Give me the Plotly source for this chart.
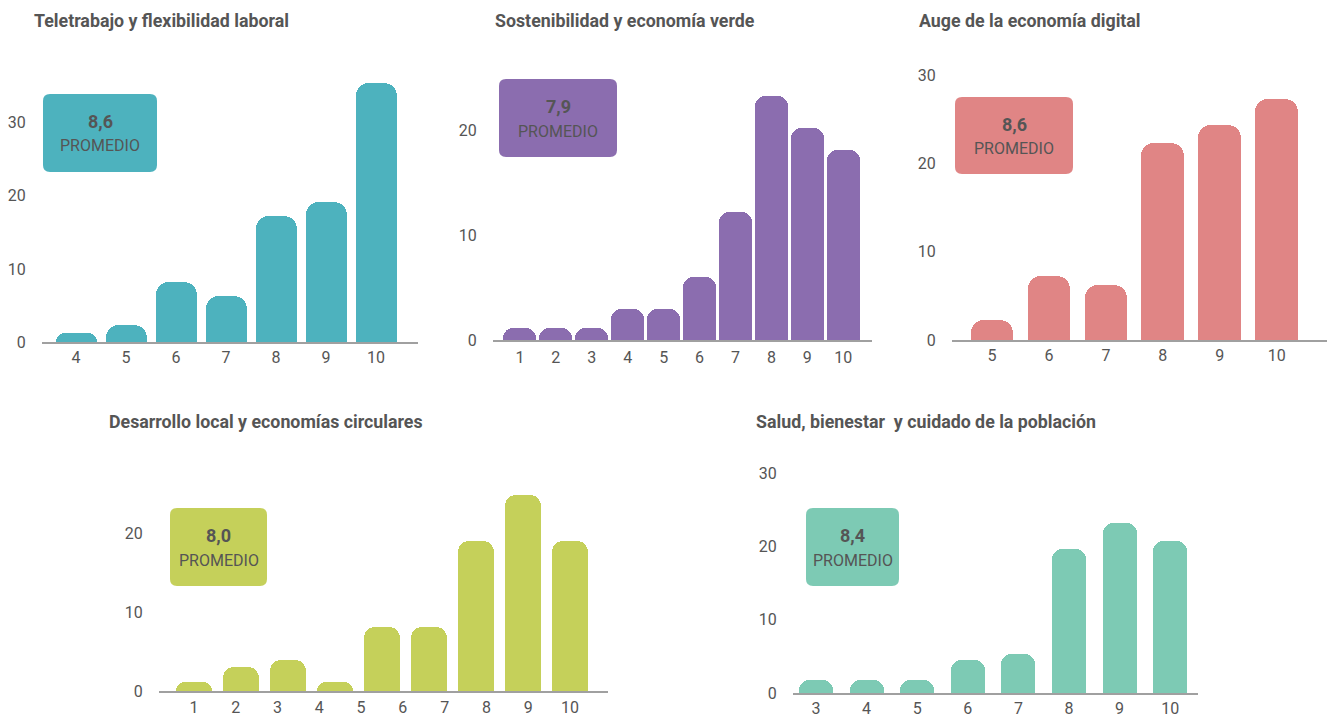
import numpy as np
import plotly.graph_objects as go

W, H = 1327, 720

# ---------------- data ----------------
titles = [
    "Teletrabajo y flexibilidad laboral",
    "Sostenibilidad y economía verde",
    "Auge de la economía digital",
    "Desarrollo local y economías circulares",
    "Salud, bienestar  y cuidado de la población",
]
averages = ["8,6", "7,9", "8,6", "8,0", "8,4"]
badge_label = "PROMEDIO"

cats1 = [4, 5, 6, 7, 8, 9, 10]
vals1 = [1.3, 2.3, 8.2, 6.3, 17.2, 19.1, 35.5]

cats2 = [1, 2, 3, 4, 5, 6, 7, 8, 9, 10]
vals2 = [1.1, 1.1, 1.1, 3.0, 3.0, 6.0, 12.2, 23.2, 20.2, 18.1]

cats3 = [5, 6, 7, 8, 9, 10]
vals3 = [2.3, 7.2, 6.2, 22.3, 24.3, 27.3]

labels4 = ["1", "2", "3", "4", "5", "6", "7", "8", "9", "10"]
vals4 = [1.2, 3.0, 4.0, 1.2, 8.1, 8.1, 19.1, 24.9, 19.1]

cats5 = [3, 4, 5, 6, 7, 8, 9, 10]
vals5 = [1.8, 1.8, 1.8, 4.5, 5.3, 19.7, 23.2, 20.7]

colors = ["#4db2be", "#8b6daf", "#e08585", "#c5d05a", "#7dcab4"]

# ---------------- layout geometry (pixels) ----------------
panels = [
    dict(xpx=(42, 418), base=342, top=60, ppu=7.31, xr=[3.32, 10.84], bw=0.82, tl=0,
         title=(32, 20), badge=(43, 94, 157, 172)),
    dict(xpx=(493, 872), base=340, top=60, ppu=10.5, xr=[0.25, 10.8], bw=0.92, tl=2,
         title=(493, 20), badge=(499, 79, 617, 157)),
    dict(xpx=(952, 1327), base=340, top=60, ppu=8.83, xr=[4.30, 10.88], bw=0.75, tl=0,
         title=(917, 20), badge=(955, 97, 1073, 174)),
    dict(xpx=(159, 608), base=691, top=460, ppu=7.87, xr=[-0.745, 8.81], bw=0.77, tl=1,
         title=(107, 421), badge=(170, 508, 267, 586)),
    dict(xpx=(793, 1198), base=693, top=460, ppu=7.33, xr=[2.545, 10.55], bw=0.67, tl=0,
         title=(754, 421), badge=(806, 508, 899, 586)),
]

idx4 = list(range(len(vals4)))
tick4 = list(np.linspace(idx4[0], idx4[-1], len(labels4)))
series = [
    (cats1, vals1, cats1, [str(c) for c in cats1]),
    (cats2, vals2, cats2, [str(c) for c in cats2]),
    (cats3, vals3, cats3, [str(c) for c in cats3]),
    (idx4, vals4, tick4, labels4),
    (cats5, vals5, cats5, [str(c) for c in cats5]),
]

FONT = "Roboto"
TXT = "#555555"


def px_x(px):
    return px / W


def px_y(py):
    return 1 - py / H


def rounded_rect(x0, y0, x1, y1, r):
    pts = [
        ("M", [(x0 + r, y0)]),
        ("L", [(x1 - r, y0)]),
        ("Q", [(x1, y0), (x1, y0 + r)]),
        ("L", [(x1, y1 - r)]),
        ("Q", [(x1, y1), (x1 - r, y1)]),
        ("L", [(x0 + r, y1)]),
        ("Q", [(x0, y1), (x0, y1 - r)]),
        ("L", [(x0, y0 + r)]),
        ("Q", [(x0, y0), (x0 + r, y0)]),
    ]
    s = ""
    for cmd, ps in pts:
        s += cmd + " " + " ".join(f"{px_x(a):.5f},{px_y(b):.5f}" for a, b in ps) + " "
    return s + "Z"


fig = go.Figure()
layout = dict(
    template="none",
    width=W, height=H,
    margin=dict(l=0, r=0, t=0, b=0, pad=0, autoexpand=False),
    paper_bgcolor="white", plot_bgcolor="white",
    showlegend=False,
    font=dict(family=FONT, color=TXT, size=16),
    bargap=0,
)
shapes = []
annotations = []

for i, (p, (xs, ys, tv, tt), col) in enumerate(zip(panels, series, colors)):
    n = "" if i == 0 else str(i + 1)
    fig.add_trace(go.Bar(
        x=xs, y=ys, width=p["bw"],
        marker=dict(color=col, cornerradius="32%", line=dict(width=0)),
        xaxis="x" + n, yaxis="y" + n, hoverinfo="x+y",
    ))
    yr = [0, (p["base"] - p["top"]) / p["ppu"]]
    layout["xaxis" + n] = dict(
        domain=[px_x(p["xpx"][0]), px_x(p["xpx"][1])],
        anchor="y" + n, range=p["xr"], tickmode="array", automargin=False,
        tickvals=tv, ticktext=tt, showgrid=False, zeroline=False,
        showline=True, linecolor="#a0a0a0", linewidth=1.5,
        ticks="outside" if p["tl"] > 0 else "", ticklen=max(p["tl"], 1),
        tickcolor="rgba(0,0,0,0)",
        tickfont=dict(family=FONT, size=16, color=TXT), fixedrange=True,
    )
    layout["yaxis" + n] = dict(
        domain=[px_y(p["base"]), px_y(p["top"])], automargin=False,
        anchor="x" + n, range=yr, dtick=10, showgrid=False, zeroline=False,
        showline=False, ticks="outside", ticklen=12, tickcolor="rgba(0,0,0,0)",
        tickfont=dict(family=FONT, size=16, color=TXT), fixedrange=True,
    )
    tx, ty = p["title"]
    annotations.append(dict(
        text="<b>" + titles[i] + "</b>", x=px_x(tx), y=px_y(ty),
        xref="paper", yref="paper", xanchor="left", yanchor="middle",
        showarrow=False, font=dict(family=FONT, size=17.8, color=TXT),
    ))
    bx0, by0, bx1, by1 = p["badge"]
    shapes.append(dict(
        type="path", path=rounded_rect(bx0, by0, bx1, by1, 7),
        xref="paper", yref="paper", fillcolor=col, line=dict(width=0),
        layer="below",
    ))
    cx = (bx0 + bx1) / 2
    annotations.append(dict(
        text="<b>" + averages[i] + "</b>", x=px_x(cx), y=px_y(by0 + 27),
        xref="paper", yref="paper", xanchor="center", yanchor="middle",
        showarrow=False, font=dict(family=FONT, size=18, color=TXT),
    ))
    annotations.append(dict(
        text=badge_label, x=px_x(cx), y=px_y(by0 + 52),
        xref="paper", yref="paper", xanchor="center", yanchor="middle",
        showarrow=False, font=dict(family=FONT, size=16, color=TXT),
    ))

layout["shapes"] = shapes
layout["annotations"] = annotations
fig.update_layout(**layout)
fig.write_html("out.html")
